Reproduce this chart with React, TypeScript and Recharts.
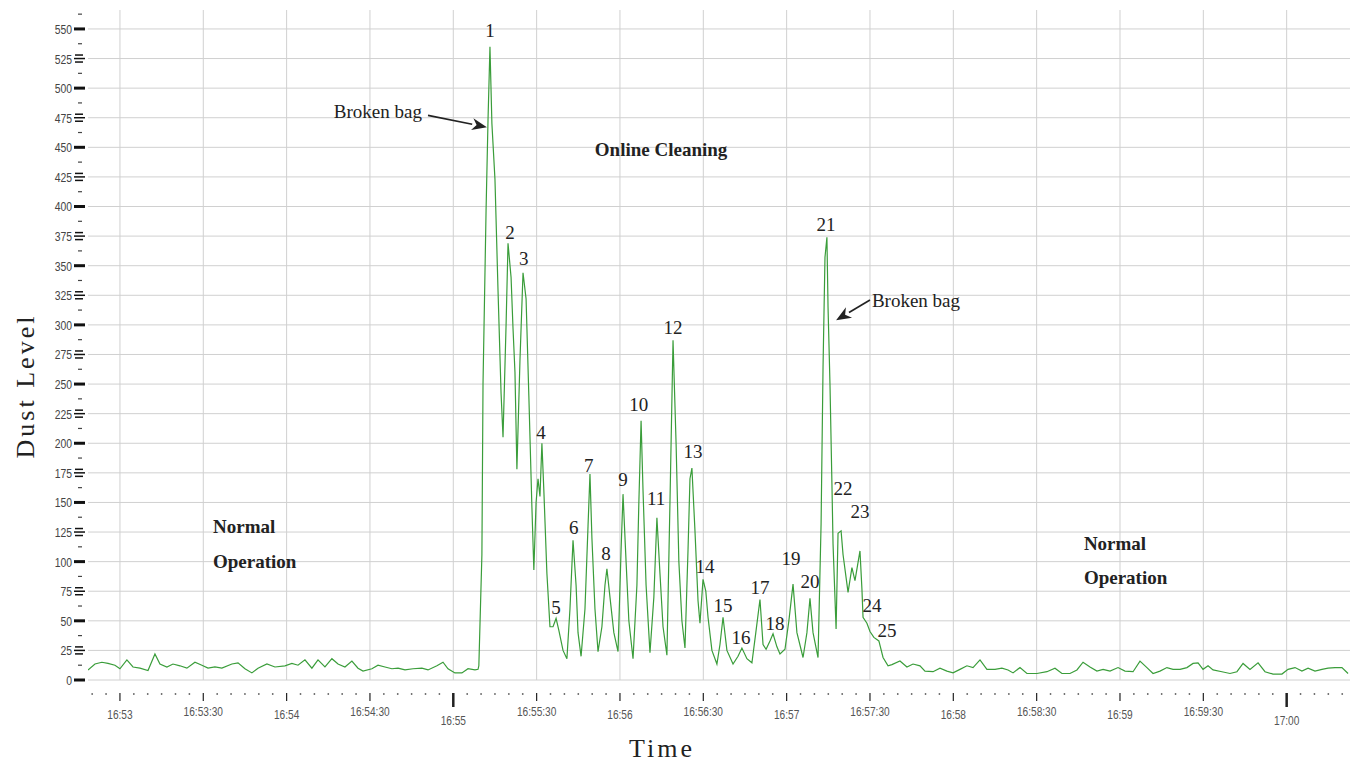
import React from "react";
import {
  LineChart,
  Line,
  XAxis,
  YAxis,
  CartesianGrid,
  ReferenceDot,
  ReferenceLine,
} from "recharts";

// time in seconds after 16:53:00
const seconds = [
  -11.5, -9, -6.5, -4.3, -1.8, 0, 2.5, 4.7, 7.2, 10.1,
  12.6, 14.4, 16.9, 19.1, 21.6, 24.1, 27, 29.5, 31.7, 34.2,
  36.7, 40.3, 42.5, 45, 47.5, 49.7, 52.9, 55.8, 59.4, 61.9,
  64.1, 66.6, 69.1, 71.3, 73.8, 76.3, 78.5, 81, 83.5, 85.7,
  87.5, 90.7, 92.9, 95.4, 97.9, 100.1, 102.6, 105.5, 108.7, 110.9,
  114.1, 116.3, 118.1, 120.6, 123.1, 125.3, 127.8, 128.9,
  // online cleaning, peaks 1-5
  129.2, 130.3, 130.7, 131.8, 132.5, 133.2, 133.9, 135, 136.1, 137.2,
  137.9, 139, 139.7, 140.8, 141.5, 142.2, 142.9, 144, 145.1, 146.2,
  147.2, 148.3, 149, 149.8, 150.5, 151.2, 151.9, 152.6, 153.7, 154.8,
  155.9, 157, 158, 159.5, 160.9,
  // peaks 6-13
  162, 163.1, 164.2, 164.9, 166, 167.4, 168.5, 169.2, 169.9, 171,
  172.1, 173.5, 174.6, 175.3, 176.4, 177.8, 179.3, 180.4, 181.1, 182.2,
  183.2, 184.7, 186.1, 186.8, 187.6, 188.3, 189.4, 190.8, 192.2, 193.3,
  194.4, 195.5, 196.9, 198, 199.1, 200.2, 201.2, 202.3, 203.4, 204.5,
  205.2, 205.9, 207, 208.1, 208.8,
  // peaks 14-25
  209.9, 210.9, 211.7, 213.1, 214.9, 216, 217.1, 218.5, 220.7, 222.5,
  223.9, 225.7, 227.5, 228.9, 230.4, 231.5, 232.6, 234, 235.1, 236.5,
  237.6, 239.4, 240.8, 242.3, 243.7, 245.9, 247.3, 248.4, 249.5, 251.3,
  252.4, 253.1, 253.8, 254.5, 254.9, 255.6, 256.3, 256.7, 257.8, 258.5,
  259.6, 260.3, 262.1, 263.5, 264.6, 266.4, 267.1, 267.5, 268.9, 270,
  271.4, 273.2, 274.7, 276.5,
  // back to normal
  277.9, 280.8, 283.3, 285.5, 288, 289.8, 292.7, 295.2, 297.7, 299.9,
  302.4, 304.9, 307.1, 309.6, 312.1, 315, 317.5, 319.7, 321.5, 324,
  326.5, 330.1, 333.7, 336.6, 339.1, 342, 344.5, 346.7, 349.2, 351.7,
  353.9, 356.4, 359.3, 361.8, 364.7, 367.2, 369.7, 371.9, 374.4, 376.9,
  379.1, 381.6, 384.1, 386.3, 388.1, 389.9, 391.7, 393.5, 396.7, 399.6,
  402.1, 404.3, 406.8, 409.7, 412.2, 415.1, 418.3, 420.5, 423, 425.5,
  427.7, 430.2, 432.7, 434.9, 437.4, 439.9, 442.1,
];

const dust = [
  8.5, 13.5, 15, 14, 12.5, 9.5, 17, 11, 10, 8,
  22, 13.5, 11, 13.5, 12, 10, 15, 12.5, 10, 11,
  10, 13.5, 14.5, 9.5, 6, 10, 13.5, 11, 12, 14,
  12.5, 17, 10, 17, 11, 18, 13.5, 11, 16, 10,
  7.5, 9.5, 12.5, 11, 9.5, 10, 8.5, 9.5, 10, 8.5,
  12, 15, 9.5, 6, 6, 9.5, 8.5, 9,
  // online cleaning, peaks 1-5
  12, 106, 250, 397, 473, 535, 470, 423, 329, 242,
  205, 300, 369, 340, 297, 260, 178, 270, 344, 322,
  240, 146, 93, 150, 170, 155, 200, 160, 90, 45,
  45, 52, 42, 25, 18,
  // peaks 6-13
  60, 118, 80, 40, 20, 60, 130, 174, 120, 60,
  24, 45, 80, 94, 70, 40, 24, 110, 157, 100,
  50, 18, 80, 150, 219, 160, 80, 23, 70, 137,
  90, 45, 21, 150, 287, 200, 100, 50, 27, 110,
  170, 179, 126, 67, 48,
  // peaks 14-25
  85, 75, 53, 25, 13.5, 30, 53, 25, 13.5, 20,
  27, 18, 14.5, 40, 68, 30, 26, 33, 39, 28,
  22, 26, 50, 81, 40, 19, 40, 69, 40, 19,
  132, 264, 357, 374, 315, 250, 166, 115, 43, 124,
  126, 106, 74, 95, 84, 109, 77, 53, 48, 41,
  36, 33, 19, 12,
  // back to normal
  13, 16, 11, 13.5, 12, 7.5, 7, 10, 7.5, 6,
  9, 12, 10.5, 17, 9, 9, 10, 8.5, 6, 10.5,
  5.5, 5.5, 7, 10, 5.5, 5.5, 8.5, 15, 11, 7.5,
  9, 7.5, 10.5, 7.5, 7, 16, 10.5, 5.5, 7.5, 10.5,
  9, 9, 10.5, 14, 14.5, 9, 12, 8.5, 7, 5.5,
  7, 14, 9, 14.5, 7, 5, 5, 9, 10.5, 7.5,
  10, 7.5, 9, 10, 10.5, 10.5, 5.5,
];

// numbered cleaning pulses and where their labels sit
const peakIds = [
  "1", "2", "3", "4", "5", "6", "7", "8", "9", "10", "11", "12", "13",
  "14", "15", "16", "17", "18", "19", "20", "21", "22", "23", "24", "25",
];
const peakLabelSec = [
  133.2, 140.4, 145.4, 151.6, 157, 163.4, 168.8, 175, 181.1, 186.8, 193, 199.1, 206.3,
  210.6, 217.1, 223.6, 230.4, 235.8, 241.6, 248.4, 254.2, 260.3, 266.4, 270.7, 276.1,
];
const peakLabelLevel = [
  549, 378, 356, 209, 61, 129, 181, 107, 169, 233, 153, 298, 193,
  96, 63, 36, 78, 48, 103, 83, 385, 162, 142, 63, 42,
];

const majorTicks = [0, 30, 60, 90, 120, 150, 180, 210, 240, 270, 300, 330, 360, 390, 420];
const majorLabels = [
  "16:53", "16:53:30", "16:54", "16:54:30", "16:55", "16:55:30", "16:56", "16:56:30",
  "16:57", "16:57:30", "16:58", "16:58:30", "16:59", "16:59:30", "17:00",
];
const levelTicks = [
  0, 25, 50, 75, 100, 125, 150, 175, 200, 225, 250, 275,
  300, 325, 350, 375, 400, 425, 450, 475, 500, 525, 550,
];

const notes = [
  { text: "Online Cleaning", t: 194.8, v: 448, anchor: "middle", bold: true },
  { text: "Normal", t: 33.5, v: 130, anchor: "start", bold: true },
  { text: "Operation", t: 33.5, v: 100.5, anchor: "start", bold: true },
  { text: "Normal", t: 347, v: 115.7, anchor: "start", bold: true },
  { text: "Operation", t: 347, v: 87, anchor: "start", bold: true },
  { text: "Broken bag", t: 108.7, v: 480, anchor: "end", bold: false },
  { text: "Broken bag", t: 270.7, v: 321, anchor: "start", bold: false },
];

const arrows = [
  { from: { t: 110.9, v: 477 }, to: { t: 132.1, v: 467 } },
  { from: { t: 270, v: 321 }, to: { t: 257.8, v: 304 } },
];

const SERIF = "'Liberation Serif', 'Times New Roman', serif";
const SANS = "'Liberation Sans', Arial, sans-serif";

// tick every 5 s, labelled every 30 s
const xTicks: number[] = [];
for (let s = -10; s <= 440; s += 5) xTicks.push(s);
const yTicks: number[] = [];
for (let l = 0; l <= 562.5; l += 12.5) yTicks.push(l);

function XTick(props: any) {
  const { x, y, payload } = props;
  const v = payload.value as number;
  const idx = majorTicks.indexOf(v);
  if (idx < 0) {
    return <circle cx={x} cy={y + 14} r={0.9} fill="#666" />;
  }
  const big = v % 300 === 120;
  const half = v % 60 !== 0;
  const labelY = big ? y + 40 : half ? y + 31 : y + 34;
  return (
    <g>
      <line
        x1={x}
        x2={x}
        y1={y + 13}
        y2={big ? y + 27 : y + 21}
        stroke="#222"
        strokeWidth={big ? 2.5 : 1.2}
      />
      {/* condensed look: squeeze the sans face horizontally */}
      <text
        transform={`translate(${x},${labelY}) scale(0.75,1)`}
        textAnchor="middle"
        dominantBaseline="central"
        fontFamily={SANS}
        fontSize={13.5}
        fill="#555"
      >
        {majorLabels[idx]}
      </text>
    </g>
  );
}

function YTick(props: any) {
  const { x, y, payload } = props;
  const v = payload.value as number;
  if (v % 25 !== 0) {
    return <line x1={x - 10} x2={x - 6} y1={y} y2={y} stroke="#444" strokeWidth={1.2} />;
  }
  const odd = v % 50 === 25;
  return (
    <g>
      <text
        transform={`translate(${x - 16},${y}) scale(0.8,1)`}
        textAnchor="end"
        dominantBaseline="central"
        fontFamily={SANS}
        fontSize={13}
        fill="#444"
      >
        {v}
      </text>
      {odd ? (
        <g stroke="#111" strokeWidth={1.5}>
          <line x1={x - 13} x2={x - 5} y1={y - 3.5} y2={y - 3.5} />
          <line x1={x - 14} x2={x - 3} y1={y} y2={y} />
          <line x1={x - 13} x2={x - 5} y1={y + 3.5} y2={y + 3.5} />
        </g>
      ) : (
        <line x1={x - 14} x2={x - 3} y1={y} y2={y} stroke="#111" strokeWidth={3} />
      )}
    </g>
  );
}

function Arrow(props: any) {
  const { x1, y1, x2, y2 } = props;
  const a = Math.atan2(y2 - y1, x2 - x1);
  const len = 15;
  const w = 6;
  const bx = x2 - len * Math.cos(a);
  const by = y2 - len * Math.sin(a);
  const px = -Math.sin(a) * w;
  const py = Math.cos(a) * w;
  return (
    <g>
      <line x1={x1} y1={y1} x2={bx} y2={by} stroke="#222" strokeWidth={1.6} />
      <polygon
        points={`${x2},${y2} ${bx + px},${by + py} ${bx + len * 0.3 * Math.cos(a)},${by + len * 0.3 * Math.sin(a)} ${bx - px},${by - py}`}
        fill="#222"
      />
    </g>
  );
}

export default function App() {
  const data = seconds.map((t, i) => ({ t, dust: dust[i] }));

  return (
    <div style={{ position: "absolute", left: 0, top: 0, width: 1353, height: 775, background: "#fff" }}>
      <LineChart width={1353} height={775} data={data} margin={{ top: 10, right: 3, left: 8, bottom: 35 }}>
        <CartesianGrid stroke="#d0d0d0" horizontalValues={levelTicks} verticalValues={majorTicks} />
        <XAxis
          type="number"
          dataKey="t"
          domain={[-11.5, 442.8]}
          ticks={xTicks}
          interval={0}
          tick={(p: any) => <XTick {...p} />}
          tickLine={false}
          axisLine={false}
          tickSize={0}
          tickMargin={0}
          height={60}
          allowDataOverflow
          label={() => (
            <text x={662} y={748} textAnchor="middle" dominantBaseline="central" fontFamily={SERIF} fontSize={26} letterSpacing={3} fill="#222">
              Time
            </text>
          )}
        />
        <YAxis
          type="number"
          domain={[0, 566]}
          ticks={yTicks}
          interval={0}
          tick={(p: any) => <YTick {...p} />}
          tickLine={false}
          axisLine={false}
          tickSize={0}
          tickMargin={0}
          width={80}
          allowDataOverflow
          label={() => (
            <text
              x={25}
              y={386}
              transform="rotate(-90 25 386)"
              textAnchor="middle"
              dominantBaseline="central"
              fontFamily={SERIF}
              fontSize={26}
              letterSpacing={3}
              fill="#222"
            >
              Dust Level
            </text>
          )}
        />
        <Line
          type="linear"
          dataKey="dust"
          stroke="#3a9d3a"
          strokeWidth={1.2}
          dot={false}
          isAnimationActive={false}
        />
        {peakIds.map((id, i) => (
          <ReferenceDot
            key={"p" + id}
            x={peakLabelSec[i]}
            y={peakLabelLevel[i]}
            r={0}
            shape={(p: any) => (
              <text x={p.cx} y={p.cy} textAnchor="middle" dominantBaseline="central" fontFamily={SERIF} fontSize={19} fill="#222">
                {id}
              </text>
            )}
          />
        ))}
        {notes.map((n, i) => (
          <ReferenceDot
            key={"n" + i}
            x={n.t}
            y={n.v}
            r={0}
            shape={(p: any) => (
              <text
                x={p.cx}
                y={p.cy}
                textAnchor={n.anchor}
                dominantBaseline="central"
                fontFamily={SERIF}
                fontSize={19}
                fontWeight={n.bold ? "bold" : "normal"}
                fill="#222"
              >
                {n.text}
              </text>
            )}
          />
        ))}
        {arrows.map((a, i) => (
          <ReferenceLine
            key={"a" + i}
            segment={[
              { x: a.from.t, y: a.from.v },
              { x: a.to.t, y: a.to.v },
            ]}
            shape={(p: any) => <Arrow {...p} />}
          />
        ))}
      </LineChart>
    </div>
  );
}
